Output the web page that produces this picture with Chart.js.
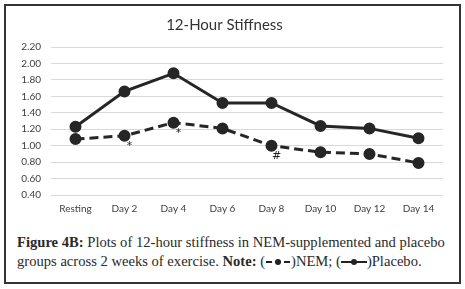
<!DOCTYPE html>
<html>
<head>
<meta charset="utf-8">
<script src="https://cdn.jsdelivr.net/npm/chart.js@4.4.0/dist/chart.umd.min.js"></script>
<style>
  html, body { margin: 0; padding: 0; background: #fff; }
  body { width: 465px; height: 289px; position: relative; overflow: hidden; }
  #frame { position: absolute; left: 4px; top: 4px; width: 453px; height: 276px; border: 2px solid #333; }
  #wrap { position: absolute; left: 6px; top: 6px; width: 454px; height: 214px; }
  #cap { position: absolute; left: 17px; top: 233px; width: 440px; font-family: "Liberation Serif", serif; font-size: 14.6px; line-height: 19px; color: #2a2a2a; white-space: nowrap; }
  #cap b { font-weight: bold; }
  .sw { display: inline-block; vertical-align: middle; margin-top: -2px; }
</style>
</head>
<body>
<div id="frame"></div>
<div id="wrap"><canvas id="c" width="454" height="214"></canvas></div>
<div id="cap"><b>Figure 4B:</b> Plots of 12-hour stiffness in NEM-supplemented and placebo<br>groups across 2 weeks of exercise. <b>Note:</b> (<svg class="sw" width="26" height="8"><line x1="1" y1="4" x2="25" y2="4" stroke="#222" stroke-width="2" stroke-dasharray="6,3"/><circle cx="13" cy="4" r="3" fill="#222"/></svg>)NEM; (<svg class="sw" width="26" height="8"><line x1="0" y1="4" x2="26" y2="4" stroke="#222" stroke-width="2"/><circle cx="13" cy="4" r="3" fill="#222"/></svg>)Placebo.</div>
<script>
const categories = ['Resting', 'Day 2', 'Day 4', 'Day 6', 'Day 8', 'Day 10', 'Day 12', 'Day 14'];
const placebo = [1.23, 1.66, 1.88, 1.52, 1.52, 1.24, 1.21, 1.09];
const nem = [1.08, 1.12, 1.28, 1.21, 1.00, 0.92, 0.90, 0.79];
const yTicks = [0.40, 0.60, 0.80, 1.00, 1.20, 1.40, 1.60, 1.80, 2.00, 2.20];
const marks = [null, '*', '*', null, '#', null, null, null];

const markPlugin = {
  id: 'marks',
  afterDatasetsDraw(chart) {
    const ctx = chart.ctx;
    const meta = chart.getDatasetMeta(1);
    ctx.save();
    ctx.fillStyle = '#222';
    ctx.font = '11px "DejaVu Sans", sans-serif';
    ctx.textAlign = 'center';
    ctx.textBaseline = 'middle';
    marks.forEach((m, i) => {
      if (!m) return;
      const p = meta.data[i];
      ctx.fillText(m, p.x + 5, p.y + 10);
    });
    ctx.restore();
  }
};

new Chart(document.getElementById('c'), {
  type: 'line',
  data: {
    labels: categories,
    datasets: [
      { label: 'Placebo', data: placebo, borderColor: '#262626', backgroundColor: '#262626', borderWidth: 3, pointRadius: 4.5, pointHoverRadius: 4.5, tension: 0 },
      { label: 'NEM', data: nem, borderColor: '#262626', backgroundColor: '#262626', borderWidth: 3, borderDash: [9, 5], pointRadius: 4.5, pointHoverRadius: 4.5, tension: 0 }
    ]
  },
  options: {
    responsive: false,
    animation: false,
    layout: { padding: { left: 0, right: 17, top: 0, bottom: 0 } },
    plugins: {
      legend: { display: false },
      tooltip: { enabled: false },
      title: { display: true, text: '12-Hour Stiffness', color: '#333', font: { family: 'Lato', size: 15, weight: 'normal' }, padding: { top: 10, bottom: 13 } }
    },
    scales: {
      x: {
        offset: true,
        grid: { display: false, drawTicks: false },
        border: { display: false },
        ticks: { color: '#404040', font: { family: 'Lato', size: 10 }, padding: 8, maxRotation: 0 },
        afterFit(s) { s.height = 25; }
      },
      y: {
        min: 0.4, max: 2.2,
        afterBuildTicks(s) { s.ticks = yTicks.map(v => ({ value: v })); },
        grid: { color: '#d9d9d9', lineWidth: 1, drawTicks: false },
        border: { display: false },
        ticks: { color: '#404040', font: { family: 'Lato', size: 10 }, padding: 10, callback: v => Number(v).toFixed(2) },
        afterFit(s) { s.width = 45; }
      }
    }
  },
  plugins: [markPlugin]
});
</script>
</body>
</html>
